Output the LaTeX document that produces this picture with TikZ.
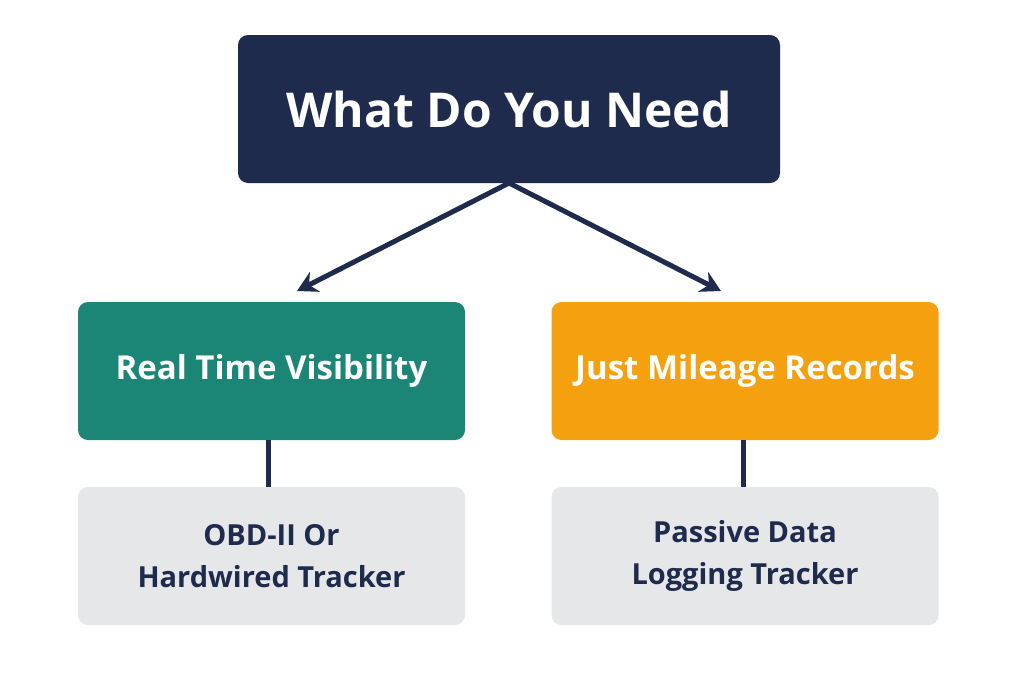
\documentclass[tikz,border=0pt]{standalone}
\usepackage{fontspec}
\setmainfont{Open Sans}
\usetikzlibrary{positioning,arrows.meta}
\definecolor{navy}{HTML}{1E2B4D}
\definecolor{teal}{HTML}{1B8576}
\definecolor{amber}{HTML}{F5A00F}
\definecolor{pale}{HTML}{E6E7E9}
\tikzset{
	every node/.style = {inner sep = 0, align=center},
	box/.style = {rounded corners=10pt, minimum width=387pt, minimum height=138pt},
	branch/.style = {box, text=white, font=\fontsize{33}{38}\selectfont\bfseries},
	leaf/.style = {box, fill=pale, text=navy, font=\fontsize{29}{42}\selectfont\bfseries},
	link/.style = {draw=navy, line width=5pt}
}
\begin{document}
\begin{tikzpicture}[x=1pt,y=-1pt]
		\useasboundingbox (0,0) rectangle (1024,683);
		\node(need)[box, fill=navy, text=white, minimum width=542pt, minimum height=148pt,
			font=\fontsize{48}{56}\selectfont\bfseries] at (509,109) {What Do You Need};
		\node(live)[branch, fill=teal] at (271.5,371) {Real Time Visibility};
		\node(miles)[branch, fill=amber] at (745,371) {Just Mileage Records};
		\node(obd)[leaf] at (271.5,556) {OBD-II Or\\Hardwired Tracker};
		\node(passive)[leaf] at (745,556) {Passive Data\\Logging Tracker};
		\coordinate(top) at (509,183);
		
		\draw[link, -{Stealth[length=20pt,width=22pt]}] (top) -- (297,291);
		\draw[link, -{Stealth[length=20pt,width=22pt]}] (top) -- (721,291);
		\draw[link] (live.south -| 268,0) -- (obd.north -| 268,0);
		\draw[link] (miles.south -| 743,0) -- (passive.north -| 743,0);
\end{tikzpicture}
\end{document}
